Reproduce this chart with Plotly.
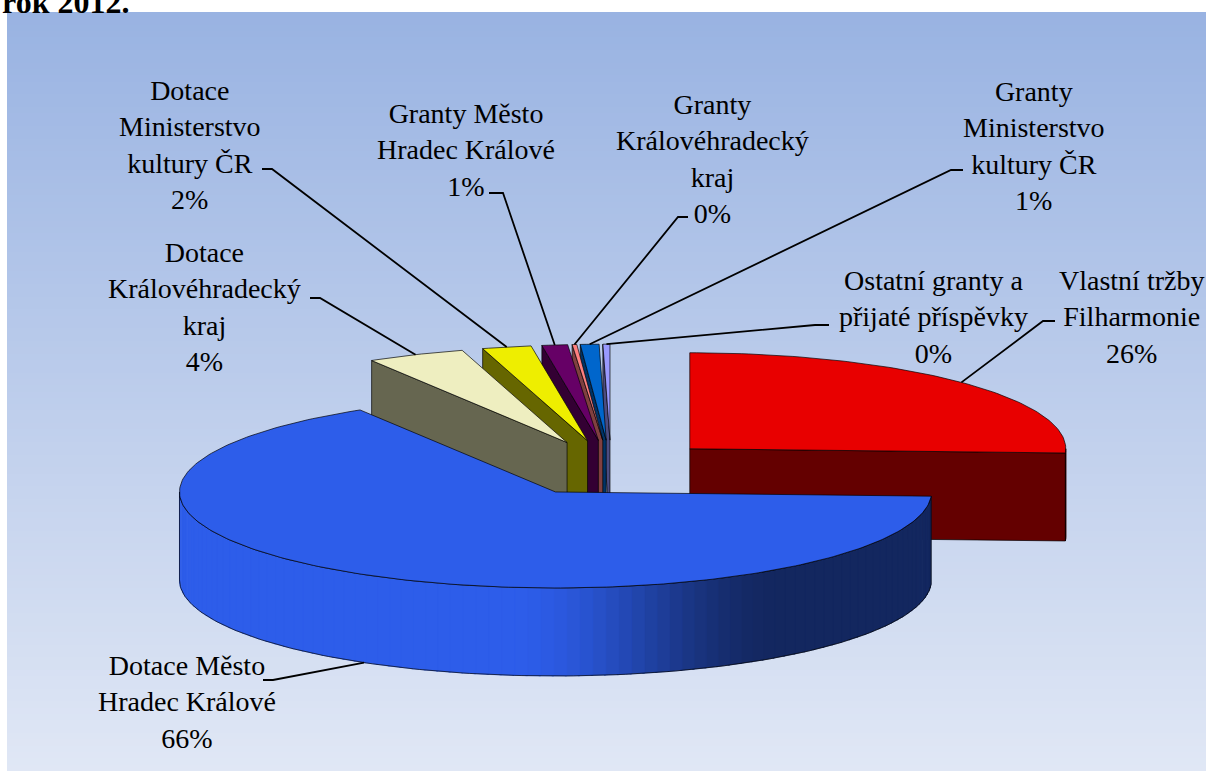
import numpy as np
import plotly.graph_objects as go

# ---------------- data ----------------
categories = [
    "Vlastní tržby Filharmonie",
    "Dotace Město Hradec Králové",
    "Dotace Královéhradecký kraj",
    "Dotace Ministerstvo kultury ČR",
    "Granty Město Hradec Králové",
    "Granty Královéhradecký kraj",
    "Granty Ministerstvo kultury ČR",
    "Ostatní granty a přijaté příspěvky",
]
values = [25.7, 65.6, 4.2, 2.1, 1.1, 0.2, 0.8, 0.3]
label_names = [
    "Vlastní tržby<br>Filharmonie",
    "Dotace Město<br>Hradec Králové",
    "Dotace<br>Královéhradecký<br>kraj",
    "Dotace<br>Ministerstvo<br>kultury ČR",
    "Granty Město<br>Hradec Králové",
    "Granty<br>Královéhradecký<br>kraj",
    "Granty<br>Ministerstvo<br>kultury ČR",
    "Ostatní granty a<br>přijaté příspěvky",
]
title_text = "rok 2012."

# ---------------- styles / layout ----------------
top_colors = ["#E80000", "#2D5DEA", "#EEEEC0", "#EEEE00", "#660066", "#FF8080", "#0066CC", "#9999FF"]
side_colors = ["#640000", "#13275F", "#666650", "#666600", "#330033", "#804040", "#003366", "#4C4C80"]
label_pos = [(1131, 317), (187, 702), (204, 307), (190, 145), (466, 150), (712, 159), (1034, 146), (933, 317)]
label_stub = [((1055, 321), (1043, 321)), ((263, 680), (273, 680)), ((310, 298), (320, 298)),
              ((262, 169), (272, 169)), ((489, 193), (503, 193)), ((688, 217), (678, 217)),
              ((963, 170), (951, 170)), ((829, 325), (815, 325))]

W, H = 1206, 772
CX, CY = 611, 468        # pie centre (pixels)
RX, RY = 376, 96         # ellipse semi-axes of the tilted pie
DEPTH = 88               # thickness of the 3-D pie
PULL = 0.29              # explosion of all slices
FONT = "'Liberation Serif', 'Times New Roman', 'DejaVu Serif', serif"

fig = go.Figure()

# background gradient of the chart area
n_bands = 120
bg_y = list(np.linspace(12, 771, n_bands + 1))
fig.add_trace(go.Heatmap(
    x=[7, 1206], y=bg_y, z=[[i] for i in range(n_bands)],
    colorscale=[[0, "#99B3E2"], [1, "#E0E7F5"]], showscale=False,
    hoverinfo="skip", zsmooth=False))


def pt(cx, cy, th, r=1.0, dz=0.0):
    t = np.radians(th)
    return cx + RX * r * np.sin(t), cy - RY * r * np.cos(t) + dz


def arc(cx, cy, a, b, dz=0.0):
    n = max(2, int(abs(b - a) / 1.0) + 2)
    ts = np.linspace(a, b, n)
    xs, ys = pt(cx, cy, ts, 1.0, dz)
    return list(xs), list(ys)


def poly(xs, ys, fill, lc="rgba(0,0,0,0.85)", lw=0.8):
    fig.add_trace(go.Scatter(
        x=list(xs) + [xs[0]], y=list(ys) + [ys[0]], mode="lines", fill="toself",
        fillcolor=fill, line=dict(color=lc, width=lw), hoverinfo="skip", showlegend=False))


def hex2rgb(h):
    h = h.lstrip("#")
    return tuple(int(h[i:i + 2], 16) for i in (0, 2, 4))


def shade(c_light, c_dark, th):
    s = np.sin(np.radians(th))
    f = np.clip((s + 0.12) / 0.72, 0, 1)
    f = f * f * (3 - 2 * f)
    a, b = hex2rgb(c_light), hex2rgb(c_dark)
    c = [int(round(a[k] + (b[k] - a[k]) * f)) for k in range(3)]
    return "rgb(%d,%d,%d)" % tuple(c)


total = sum(values)
angles = np.cumsum([0] + [v / total * 360 for v in values])
slices = []
for i, v in enumerate(values):
    a, b = angles[i], angles[i + 1]
    m = (a + b) / 2
    ox = PULL * RX * np.sin(np.radians(m))
    oy = -PULL * RY * np.cos(np.radians(m))
    slices.append(dict(i=i, a=a, b=b, m=m, cx=CX + ox, cy=CY + oy))

# painter's order: back slices first
for s in sorted(slices, key=lambda s: s["cy"]):
    i, a, b, cx, cy = s["i"], s["a"], s["b"], s["cx"], s["cy"]
    # radial faces
    for th, visible in ((a, np.sin(np.radians(a)) < -1e-6), (b, np.sin(np.radians(b)) > 1e-6)):
        if visible:
            ox_, oy_ = pt(cx, cy, th)
            poly([cx, ox_, ox_, cx], [cy, oy_, oy_ + DEPTH, cy + DEPTH], side_colors[i])
    # outer wall (front half only)
    lo, hi = max(a, 90), min(b, 270)
    if lo < hi:
        n = max(2, int((hi - lo) / 2) + 1)
        ts = np.linspace(lo, hi, n + 1)
        for k in range(n):
            t0, t1 = ts[k], min(ts[k + 1] + 0.3, hi)
            tx, ty = arc(cx, cy, t0, t1)
            bx, by = arc(cx, cy, t1, t0, DEPTH)
            col = shade(top_colors[i], side_colors[i], (t0 + t1) / 2)
            poly(tx + bx, ty + by, col, lc=col, lw=0.6)
        tx, ty = arc(cx, cy, lo, hi)
        bx, by = arc(cx, cy, hi, lo, DEPTH)
        fig.add_trace(go.Scatter(x=tx + bx + [tx[0]], y=ty + by + [ty[0]], mode="lines",
                                 line=dict(color="rgba(0,0,0,0.85)", width=0.8),
                                 hoverinfo="skip", showlegend=False))
    # top face
    tx, ty = arc(cx, cy, a, b)
    poly([cx] + tx, [cy] + ty, top_colors[i])

# labels with leader lines
for s in slices:
    i = s["i"]
    pct = round(values[i] / total * 100)
    front = np.cos(np.radians(s["m"])) < 0
    ex, ey = pt(s["cx"], s["cy"], s["m"], 1.0, DEPTH if front else 0.0)
    (x0, y0), (x1, y1) = label_stub[i]
    fig.add_trace(go.Scatter(x=[x0, x1, ex], y=[y0, y1, ey], mode="lines",
                             line=dict(color="black", width=1.8),
                             hoverinfo="skip", showlegend=False))
    lx, ly = label_pos[i]
    fig.add_annotation(x=lx, y=ly, xref="x", yref="y", text=f"{label_names[i]}<br>{pct}%",
                       showarrow=False, xanchor="center", yanchor="middle", align="center",
                       font=dict(family=FONT, size=28, color="black"))

fig.add_annotation(x=0, y=2, xref="x", yref="y", text=f"<b>{title_text}</b>", showarrow=False,
                   xanchor="left", yanchor="middle", font=dict(family=FONT, size=32, color="black"))

fig.update_layout(
    width=W, height=H, autosize=False,
    margin=dict(l=0, r=0, t=0, b=0, pad=0),
    paper_bgcolor="white", plot_bgcolor="white",
    xaxis=dict(range=[0, W], visible=False, fixedrange=True),
    yaxis=dict(range=[H, 0], visible=False, fixedrange=True),
    showlegend=False,
)

fig.write_html("out.html", config={"displayModeBar": False},
               post_script="document.body.style.margin='0';document.body.style.overflow='hidden';")
